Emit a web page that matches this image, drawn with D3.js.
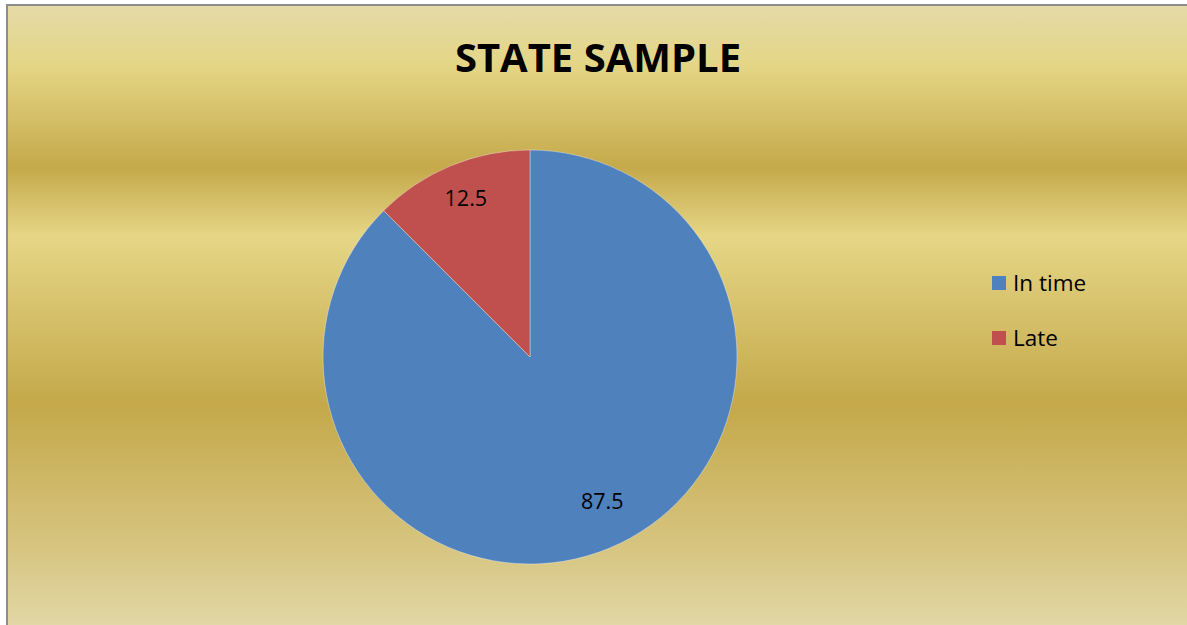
<!DOCTYPE html>
<html><head><meta charset="utf-8">
<script src="https://cdn.jsdelivr.net/npm/d3@7"></script>
<style>html,body{margin:0;padding:0;background:#fff;overflow:hidden}</style>
</head><body>
<svg id="c" width="1187" height="625"></svg>
<script>
const categories = ["In time", "Late"];
const values = [87.5, 12.5];
const colors = ["#4f81bd", "#c0504d"];
const title = "STATE SAMPLE";

const svg = d3.select("#c");
const W = 1187, H = 625;
const defs = svg.append("defs");
const g = defs.append("linearGradient").attr("id","bg").attr("x1",0).attr("y1",0).attr("x2",0).attr("y2",1);
[[0,"#e4daa8"],[0.1,"#e4d584"],[0.26,"#c5a94b"],[0.37,"#e5d686"],[0.64,"#c4a84a"],[0.86,"#d6c47e"],[1,"#e2d8a8"]]
  .forEach(([o,c])=>g.append("stop").attr("offset",o).attr("stop-color",c));

svg.append("rect").attr("x",7).attr("y",5).attr("width",W).attr("height",H)
  .attr("fill","url(#bg)").attr("stroke","#8c8c8c").attr("stroke-width",2);

svg.append("text").attr("x",598).attr("y",72).attr("text-anchor","middle")
  .attr("font-family","'Open Sans', 'Liberation Sans', sans-serif").attr("font-weight","bold")
  .attr("font-size",40).attr("fill","#000").text(title);

const cx = 530, cy = 357, R = 207;
const pie = d3.pie().sort(null).value(d=>d);
const arcs = pie(values);
const arc = d3.arc().innerRadius(0).outerRadius(R);
const labelArc = d3.arc().innerRadius(R*0.81).outerRadius(R*0.81);
const pg = svg.append("g").attr("transform",`translate(${cx},${cy})`);
pg.selectAll("path").data(arcs).join("path").attr("d",arc)
  .attr("fill",(d,i)=>colors[i]).attr("stroke","#ffffff").attr("stroke-opacity",0.5).attr("stroke-width",0.7);
pg.selectAll("text").data(arcs).join("text")
  .attr("transform",d=>{const [x,y]=labelArc.centroid(d); return `translate(${x+(d.index===0?8:0)},${y-(d.index===0?10:4)})`;})
  .attr("text-anchor","middle").attr("dy","0.35em")
  .attr("font-family","'Open Sans', 'Liberation Sans', sans-serif").attr("font-size",21.5).attr("fill","#000")
  .text(d=>d.data);

const lg = svg.append("g").attr("transform","translate(992,276)");
const items = lg.selectAll("g").data(categories).join("g").attr("transform",(d,i)=>`translate(0,${i*55})`);
items.append("rect").attr("width",14).attr("height",14).attr("fill",(d,i)=>colors[i]);
items.append("text").attr("x",21).attr("y",7).attr("dy","0.35em")
  .attr("font-family","'Open Sans', 'Liberation Sans', sans-serif").attr("font-size",22.5).attr("fill","#000").text(d=>d);
</script>
</body></html>
